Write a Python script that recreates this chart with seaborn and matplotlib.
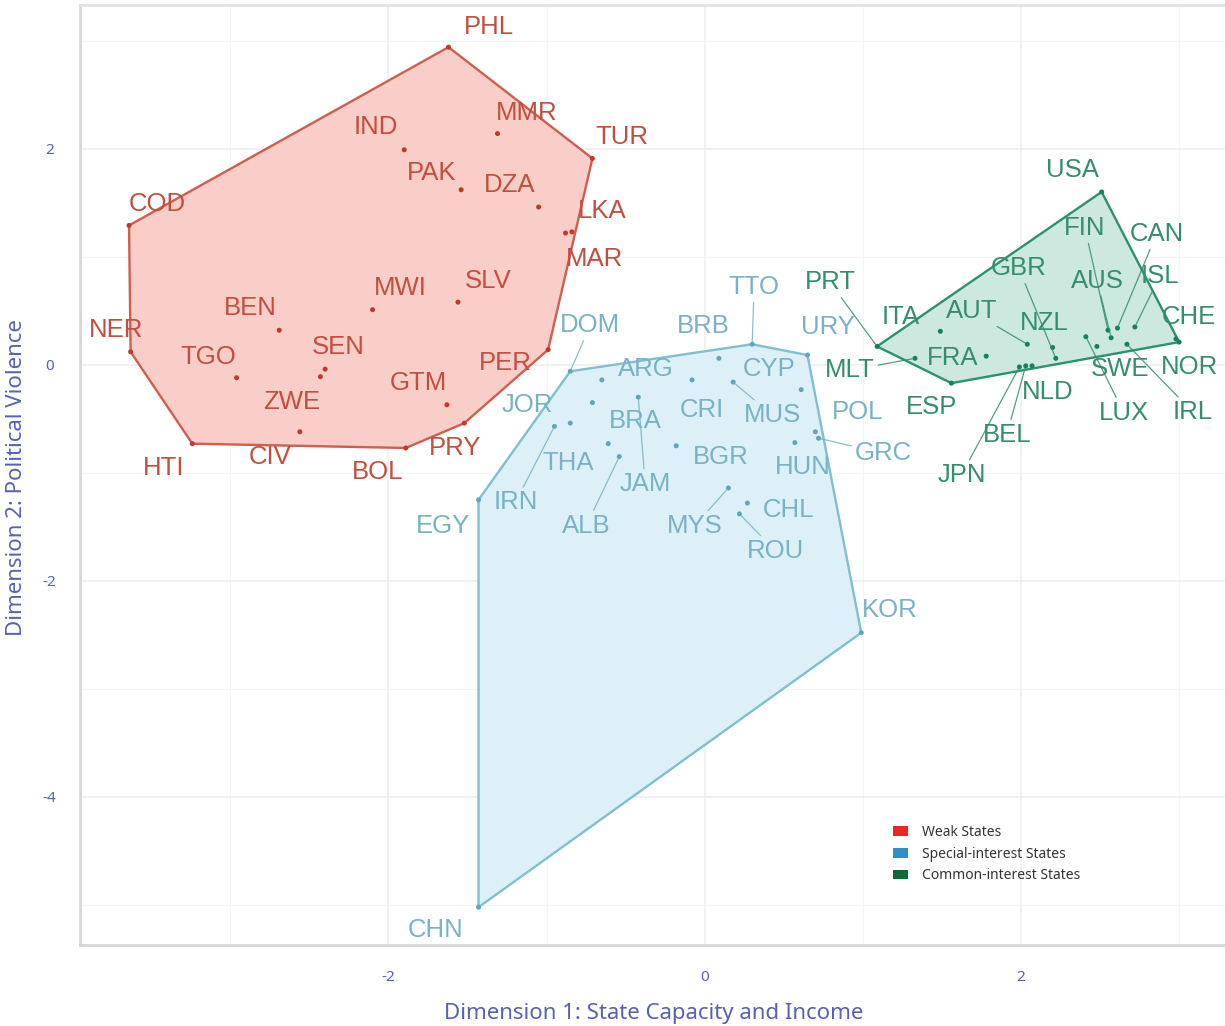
import numpy as np
import pandas as pd
import matplotlib
matplotlib.use("Agg")
import matplotlib.pyplot as plt
import seaborn as sns
from matplotlib.patches import Patch

# ---------------------------------------------------------------------------
# Country scores on the two dimensions, by state type
# ---------------------------------------------------------------------------
weak_codes = ["PHL", "MMR", "TUR", "IND", "PAK", "DZA", "LKA", "MAR", "COD",
              "NER", "BEN", "MWI", "SLV", "TGO", "SEN", "ZWE", "CIV", "GTM",
              "PER", "PRY", "BOL", "HTI"]
weak_dim1 = [-1.62, -1.31, -0.71, -1.90, -1.54, -1.05, -0.84, -0.88, -3.64,
             -3.63, -2.69, -2.10, -1.56, -2.96, -2.40, -2.43, -2.56, -1.63,
             -0.99, -1.52, -1.89, -3.24]
weak_dim2 = [2.94, 2.14, 1.91, 1.99, 1.62, 1.46, 1.23, 1.22, 1.29,
             0.12, 0.32, 0.51, 0.58, -0.12, -0.04, -0.11, -0.62, -0.37,
             0.14, -0.54, -0.77, -0.73]

special_codes = ["TTO", "DOM", "BRB", "URY", "ARG", "CRI", "CYP", "MUS", "POL",
                 "GRC", "BRA", "JOR", "IRN", "THA", "JAM", "ALB", "BGR", "HUN",
                 "EGY", "MYS", "CHL", "ROU", "KOR", "CHN"]
special_dim1 = [0.30, -0.85, 0.09, 0.65, -0.65, -0.08, 0.61, 0.18, 0.70,
                0.72, -0.71, -0.85, -0.95, -0.61, -0.42, -0.54, -0.18, 0.57,
                -1.43, 0.15, 0.27, 0.22, 0.99, -1.43]
special_dim2 = [0.19, -0.06, 0.06, 0.09, -0.14, -0.14, -0.23, -0.16, -0.62,
                -0.68, -0.35, -0.54, -0.57, -0.73, -0.30, -0.85, -0.75, -0.72,
                -1.25, -1.14, -1.28, -1.38, -2.48, -5.02]

common_codes = ["USA", "PRT", "ITA", "AUT", "NZL", "GBR", "MLT", "FRA", "ESP",
                "JPN", "BEL", "NLD", "LUX", "SWE", "FIN", "AUS", "CAN", "ISL",
                "IRL", "CHE", "NOR"]
common_dim1 = [2.51, 1.09, 1.49, 2.04, 2.20, 2.22, 1.33, 1.78, 1.56,
               1.99, 2.03, 2.07, 2.41, 2.48, 2.55, 2.57, 2.61, 2.72,
               2.67, 2.98, 3.00]
common_dim2 = [1.60, 0.17, 0.31, 0.19, 0.16, 0.06, 0.06, 0.08, -0.17,
               -0.02, -0.01, -0.01, 0.26, 0.17, 0.32, 0.25, 0.34, 0.35,
               0.19, 0.24, 0.21]

group_names = ["Weak States", "Special-interest States", "Common-interest States"]

# ---------------------------------------------------------------------------
# Label placement (pixel offsets from each point: right, up)
# ---------------------------------------------------------------------------
label_offsets = {
    "PHL": (40, 20), "MMR": (29, 21), "TUR": (29, 21), "IND": (-28, 23),
    "PAK": (-30, 17), "DZA": (-29, 22), "LKA": (30, 21), "MAR": (29, -26),
    "COD": (28, 21), "NER": (-15, 22), "BEN": (-29, 22), "MWI": (28, 22),
    "SLV": (30, 21), "TGO": (-28, 21), "SEN": (13, 22), "ZWE": (-29, -25),
    "CIV": (-30, -25), "GTM": (-29, 22), "PER": (-43, -13), "PRY": (-9, -25),
    "BOL": (-28, -24), "HTI": (-29, -24),
    "TTO": (2, 57), "DOM": (20, 46), "BRB": (-16, 32), "URY": (20, 28),
    "ARG": (44, 11), "CRI": (10, -30), "CYP": (-32, 21), "MUS": (39, -33),
    "POL": (42, 20), "GRC": (65, -15), "BRA": (43, -18), "JOR": (-43, 18),
    "IRN": (-39, -76), "THA": (-40, -19), "JAM": (7, -87), "ALB": (-33, -69),
    "BGR": (45, -11), "HUN": (8, -24), "EGY": (-36, -26), "MYS": (-34, -38),
    "CHL": (41, -7), "ROU": (36, -37), "KOR": (28, 23), "CHN": (-43, -23),
    "USA": (-29, 22), "PRT": (-47, 64), "ITA": (-40, 14), "AUT": (-56, 33),
    "NZL": (-8, 25), "GBR": (-37, 90), "MLT": (-65, -12), "FRA": (-34, -2),
    "ESP": (-20, -24), "JPN": (-58, -108), "BEL": (-19, -69), "NLD": (16, -26),
    "LUX": (38, -76), "SWE": (23, -23), "FIN": (-23, 102), "AUS": (-14, 57),
    "CAN": (39, 94), "ISL": (25, 51), "IRL": (66, -68), "CHE": (13, 22),
    "NOR": (10, -25),
}
LEADER_MIN = 50  # labels further away than this get a connecting segment

styles = {
    "Weak States": dict(fill="#f9cdc8", edge="#cf5e4f", text="#c24f3d",
                        point="#c0392b", key="#ee2428"),
    "Special-interest States": dict(fill="#ddf0f7", edge="#80bfd0", text="#78b2c4",
                                    point="#5fa6bb", key="#2a90c8"),
    "Common-interest States": dict(fill="#cde8de", edge="#2c9171", text="#338e6d",
                                   point="#17805f", key="#0b6b34"),
}

df = pd.concat([
    pd.DataFrame({"code": weak_codes, "dim1": weak_dim1, "dim2": weak_dim2,
                  "group": group_names[0]}),
    pd.DataFrame({"code": special_codes, "dim1": special_dim1, "dim2": special_dim2,
                  "group": group_names[1]}),
    pd.DataFrame({"code": common_codes, "dim1": common_dim1, "dim2": common_dim2,
                  "group": group_names[2]}),
], ignore_index=True)


def convex_hull(xs, ys):
    pts = sorted(set(zip(xs, ys)))

    def cross(o, a, b):
        return (a[0] - o[0]) * (b[1] - o[1]) - (a[1] - o[1]) * (b[0] - o[0])

    lower, upper = [], []
    for p in pts:
        while len(lower) >= 2 and cross(lower[-2], lower[-1], p) <= 0:
            lower.pop()
        lower.append(p)
    for p in reversed(pts):
        while len(upper) >= 2 and cross(upper[-2], upper[-1], p) <= 0:
            upper.pop()
        upper.append(p)
    return np.array(lower[:-1] + upper[:-1])


sns.set_theme(style="white")
plt.rcParams["font.family"] = ["Liberation Sans", "DejaVu Sans"]

fig = plt.figure(figsize=(12.25, 10.26), dpi=100)
ax = fig.add_axes([80 / 1225, 1 - 945 / 1026, 1 - 80 / 1225, (945 - 5) / 1026])

ax.set_xlim(-3.95, 3.29)
ax.set_ylim(-5.37, 3.33)

# background grid
ax.set_xticks([-2, 0, 2])
ax.set_xticks([-3, -1, 1, 3], minor=True)
ax.set_yticks([-4, -2, 0, 2])
ax.set_yticks([-5, -3, -1, 1, 3], minor=True)
ax.grid(which="major", color="#ededed", lw=1.1)
ax.grid(which="minor", color="#f5f5f5", lw=0.8)
ax.set_axisbelow(True)

# hulls
for g in group_names:
    sub = df[df.group == g]
    hull = convex_hull(sub.dim1, sub.dim2)
    st = styles[g]
    ax.fill(hull[:, 0], hull[:, 1], facecolor=st["fill"], edgecolor="none", zorder=1)
    closed = np.vstack([hull, hull[:1]])
    ax.plot(closed[:, 0], closed[:, 1], color=st["edge"], lw=1.7, zorder=2,
            solid_joinstyle="round")

# points
sns.scatterplot(data=df, x="dim1", y="dim2", hue="group",
                palette={g: styles[g]["point"] for g in group_names},
                s=13, edgecolor="none", legend=False, ax=ax, zorder=3)

# country labels
for _, r in df.iterrows():
    st = styles[r.group]
    dx, dy = label_offsets[r.code]
    arrow = None
    if np.hypot(dx, dy) > LEADER_MIN:
        arrow = dict(arrowstyle="-", color=st["text"], lw=0.9, alpha=0.85,
                     shrinkA=0, shrinkB=2)
    ax.annotate(r.code, xy=(r.dim1, r.dim2), xytext=(dx, dy),
                textcoords="offset pixels", ha="center", va="center",
                fontsize=18.5, color=st["text"], arrowprops=arrow, zorder=4)

# axes styling
axis_color = "#5561b5"
ax.set_xlabel("")
ax.set_ylabel("")
ax.set_xticklabels(["-2", "0", "2"])
ax.set_yticklabels(["-4", "-2", "0", "2"])
ax.tick_params(axis="both", which="both", length=0, labelsize=11,
               labelcolor=axis_color)
ax.tick_params(axis="x", pad=18)
ax.tick_params(axis="y", pad=22)
for lab in ax.get_yticklabels():
    lab.set_horizontalalignment("center")
for lab in ax.get_xticklabels() + ax.get_yticklabels():
    lab.set_family(["Noto Sans", "DejaVu Sans"])

for side in ["left", "bottom", "top"]:
    ax.spines[side].set_color("#d6d6d6")
    ax.spines[side].set_linewidth(2)
ax.spines["top"].set_color("#e2e2e2")
ax.spines["right"].set_visible(False)

fig.text(654 / 1225, 1 - 1014 / 1026, "Dimension 1: State Capacity and Income",
         ha="center", va="center", fontsize=16, color=axis_color,
         family=["Noto Sans", "DejaVu Sans"])
fig.text(17 / 1225, 1 - 478 / 1026, "Dimension 2: Political Violence",
         ha="center", va="center", rotation=90, fontsize=16, color=axis_color,
         family=["Noto Sans", "DejaVu Sans"])

# legend
handles = [Patch(facecolor=styles[g]["key"], edgecolor="none", label=g)
           for g in group_names]
ax.legend(handles=handles, loc="upper left",
          bbox_to_anchor=((893 - 80) / 1145, (945 - 825) / 940),
          frameon=False, borderpad=0, borderaxespad=0,
          handlelength=1.1, handleheight=0.68, handletextpad=1.0,
          labelspacing=0.48, prop={"family": "Noto Sans", "size": 10},
          labelcolor="#333333")

fig.savefig("out.png", dpi=100)
